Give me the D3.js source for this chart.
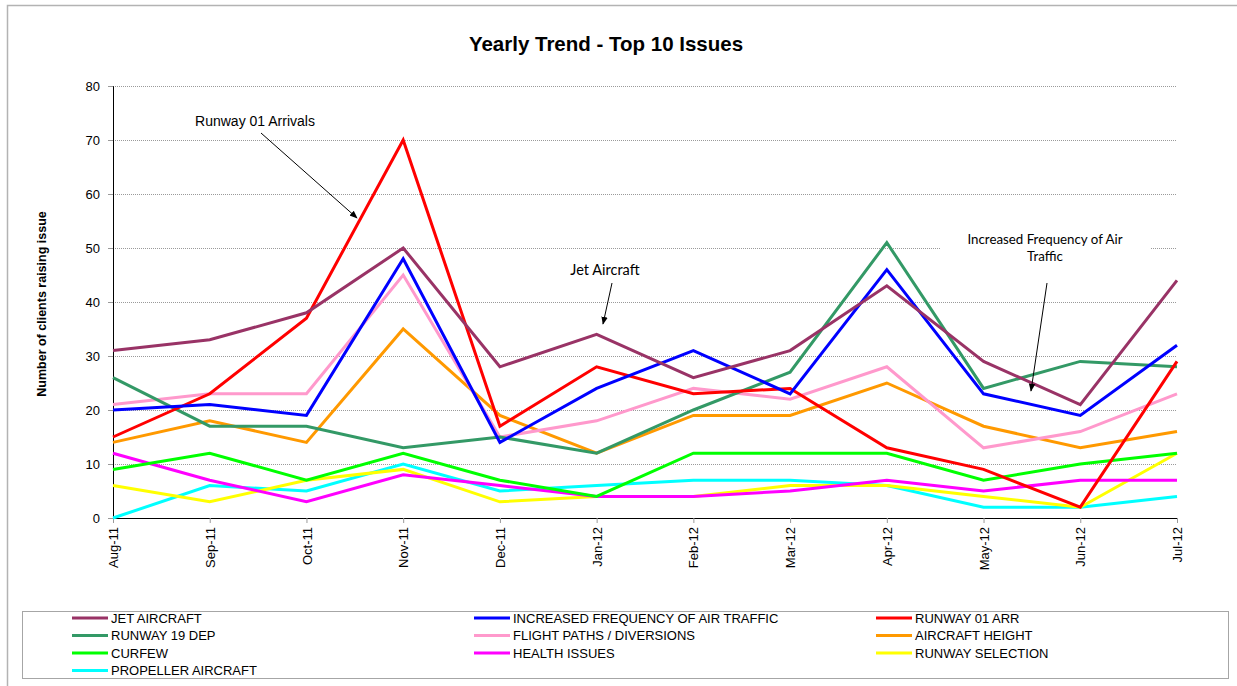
<!DOCTYPE html>
<html>
<head>
<meta charset="utf-8">
<script src="https://cdn.jsdelivr.net/npm/d3@7"></script>
<style>
  body { margin: 0; background: #fff; }
  svg { display: block; font-family: Arial, "Liberation Sans", sans-serif; }
</style>
</head>
<body>
<div id="chart"></div>
<script>
// Data
const months = ['Aug-11', 'Sep-11', 'Oct-11', 'Nov-11', 'Dec-11', 'Jan-12',
                'Feb-12', 'Mar-12', 'Apr-12', 'May-12', 'Jun-12', 'Jul-12'];
const yTicks = [0, 10, 20, 30, 40, 50, 60, 70, 80];

const jetAircraft     = [31, 33, 38, 50, 28, 34, 26, 31, 43, 29, 21, 44];
const increasedFreq   = [20, 21, 19, 48, 14, 24, 31, 23, 46, 23, 19, 32];
const runway01Arr     = [15, 23, 37, 70, 17, 28, 23, 24, 13, 9, 2, 29];
const runway19Dep     = [26, 17, 17, 13, 15, 12, 20, 27, 51, 24, 29, 28];
const flightPaths     = [21, 23, 23, 45, 15, 18, 24, 22, 28, 13, 16, 23];
const aircraftHeight  = [14, 18, 14, 35, 19, 12, 19, 19, 25, 17, 13, 16];
const curfew          = [9, 12, 7, 12, 7, 4, 12, 12, 12, 7, 10, 12];
const healthIssues    = [12, 7, 3, 8, 6, 4, 4, 5, 7, 5, 7, 7];
const runwaySelection = [6, 3, 7, 9, 3, 4, 4, 6, 6, 4, 2, 12];
const propeller       = [0, 6, 5, 10, 5, 6, 7, 7, 6, 2, 2, 4];

const seriesNames = ['JET AIRCRAFT', 'INCREASED FREQUENCY OF AIR TRAFFIC', 'RUNWAY 01 ARR',
                     'RUNWAY 19 DEP', 'FLIGHT PATHS / DIVERSIONS', 'AIRCRAFT HEIGHT',
                     'CURFEW', 'HEALTH ISSUES', 'RUNWAY SELECTION', 'PROPELLER AIRCRAFT'];
const seriesValues = [jetAircraft, increasedFreq, runway01Arr, runway19Dep, flightPaths,
                      aircraftHeight, curfew, healthIssues, runwaySelection, propeller];
const seriesColors = ['#993366', '#0000FF', '#FF0000', '#339966', '#FF99CC',
                      '#FF9900', '#00FF00', '#FF00FF', '#FFFF00', '#00FFFF'];

// Layout
const width = 1237, height = 686;
const margin = {top: 86, right: 60, bottom: 168, left: 113};
const innerWidth = 1177 - margin.left;
const innerHeight = 518 - margin.top;

const svg = d3.select('#chart').append('svg')
    .attr('width', width)
    .attr('height', height);

// Outer chart border (only top and left edges are visible in the picture)
svg.append('path')
    .attr('d', `M7.5,${height} V5.5 H${width}`)
    .attr('fill', 'none')
    .attr('stroke', '#b3b3b3')
    .attr('stroke-width', 1.5);

// Title
svg.append('text')
    .attr('x', 606).attr('y', 51)
    .attr('text-anchor', 'middle')
    .style('font-size', '20.5px')
    .style('font-weight', 'bold')
    .text('Yearly Trend - Top 10 Issues');

const g = svg.append('g')
    .attr('transform', `translate(${margin.left}, ${margin.top})`);

const x = d3.scalePoint()
    .domain(months)
    .range([0, innerWidth]);

const y = d3.scaleLinear()
    .domain([0, 80])
    .range([innerHeight, 0]);

// Grid lines
g.append('g')
    .attr('class', 'grid')
    .call(d3.axisLeft(y).tickValues(yTicks.slice(1)).tickSize(-innerWidth).tickFormat(''))
    .call(s => s.select('.domain').remove())
    .selectAll('line')
    .attr('stroke', '#9a9a9a')
    .attr('stroke-dasharray', '1,1');

// Y axis
const yAxis = g.append('g')
    .call(d3.axisLeft(y).tickValues(yTicks).tickSize(5).tickPadding(8));
yAxis.select('.domain').attr('stroke', '#000');
yAxis.selectAll('.tick line').attr('stroke', '#999');
yAxis.selectAll('text')
    .style('font-size', '13px')
    .style('font-family', 'Arial, "Liberation Sans", sans-serif')
    .attr('fill', '#000');

// X axis
const xAxis = g.append('g')
    .attr('transform', `translate(0, ${innerHeight})`)
    .call(d3.axisBottom(x).tickSize(5).tickSizeOuter(0));
xAxis.select('.domain').attr('stroke', '#000');
xAxis.selectAll('.tick line').attr('stroke', '#999');
xAxis.selectAll('text')
    .style('font-size', '13px')
    .style('font-family', 'Arial, "Liberation Sans", sans-serif')
    .attr('fill', '#000')
    .attr('transform', 'rotate(-90)')
    .attr('x', -9)
    .attr('y', 0)
    .attr('dy', '0.35em')
    .style('text-anchor', 'end');

// Y axis label
svg.append('text')
    .attr('transform', 'rotate(-90)')
    .attr('x', -304)
    .attr('y', 46)
    .attr('text-anchor', 'middle')
    .style('font-size', '12.5px')
    .style('font-weight', 'bold')
    .text('Number of clients raising issue');

// Lines
const line = d3.line()
    .x((d, i) => x(months[i]))
    .y(d => y(d));

// draw so that earlier series end up on top, like the original
seriesValues.slice().reverse().forEach((vals, ri) => {
    const i = seriesValues.length - 1 - ri;
    g.append('path')
        .datum(vals)
        .attr('fill', 'none')
        .attr('stroke', seriesColors[i])
        .attr('stroke-width', 3)
        .attr('stroke-linejoin', 'miter')
        .attr('d', line);
});

// Annotations
const defs = svg.append('defs');
defs.append('marker')
    .attr('id', 'arrow')
    .attr('viewBox', '0 0 10 10')
    .attr('refX', 9).attr('refY', 5)
    .attr('markerWidth', 8).attr('markerHeight', 8)
    .attr('orient', 'auto')
    .append('path')
    .attr('d', 'M0,1 L10,5 L0,9 Z')
    .attr('fill', '#000');

function arrow(x1, y1, x2, y2) {
    svg.append('line')
        .attr('x1', x1).attr('y1', y1)
        .attr('x2', x2).attr('y2', y2)
        .attr('stroke', '#000')
        .attr('stroke-width', 1)
        .attr('marker-end', 'url(#arrow)');
}

svg.append('text')
    .attr('x', 255).attr('y', 126)
    .attr('text-anchor', 'middle')
    .style('font-size', '14px')
    .text('Runway 01 Arrivals');
arrow(261, 133, 357, 218);

svg.append('text')
    .attr('x', 605).attr('y', 275)
    .attr('text-anchor', 'middle')
    .style('font-family', 'Lato, "Open Sans", sans-serif')
    .style('font-size', '14.5px')
    .text('Jet Aircraft');
arrow(612, 283, 603, 324);

// white box behind the two-line label (hides the grid line)
svg.append('rect')
    .attr('x', 940).attr('y', 228)
    .attr('width', 211).attr('height', 38)
    .attr('fill', '#fff');
const freqLabel = svg.append('text')
    .attr('text-anchor', 'middle')
    .style('font-family', 'Lato, "Open Sans", sans-serif')
    .style('font-size', '13.3px');
freqLabel.append('tspan').attr('x', 1045).attr('y', 244).text('Increased Frequency of Air');
freqLabel.append('tspan').attr('x', 1045).attr('y', 261).text('Traffic');
arrow(1047, 283, 1031, 391);

// Legend
const legend = svg.append('g');
legend.append('rect')
    .attr('x', 22.5).attr('y', 611.5)
    .attr('width', 1206).attr('height', 67)
    .attr('fill', '#fff')
    .attr('stroke', '#a6a6a6')
    .attr('stroke-width', 1);

const legendCols = [72, 474, 876];
seriesNames.forEach((name, i) => {
    const col = i % 3, row = Math.floor(i / 3);
    const lx = legendCols[col], ly = 618 + row * 17.5;
    legend.append('line')
        .attr('x1', lx).attr('x2', lx + 36)
        .attr('y1', ly).attr('y2', ly)
        .attr('stroke', seriesColors[i])
        .attr('stroke-width', 3);
    legend.append('text')
        .attr('x', lx + 39).attr('y', ly)
        .attr('dy', '0.35em')
        .style('font-size', '13px')
        .text(name);
});
</script>
</body>
</html>
